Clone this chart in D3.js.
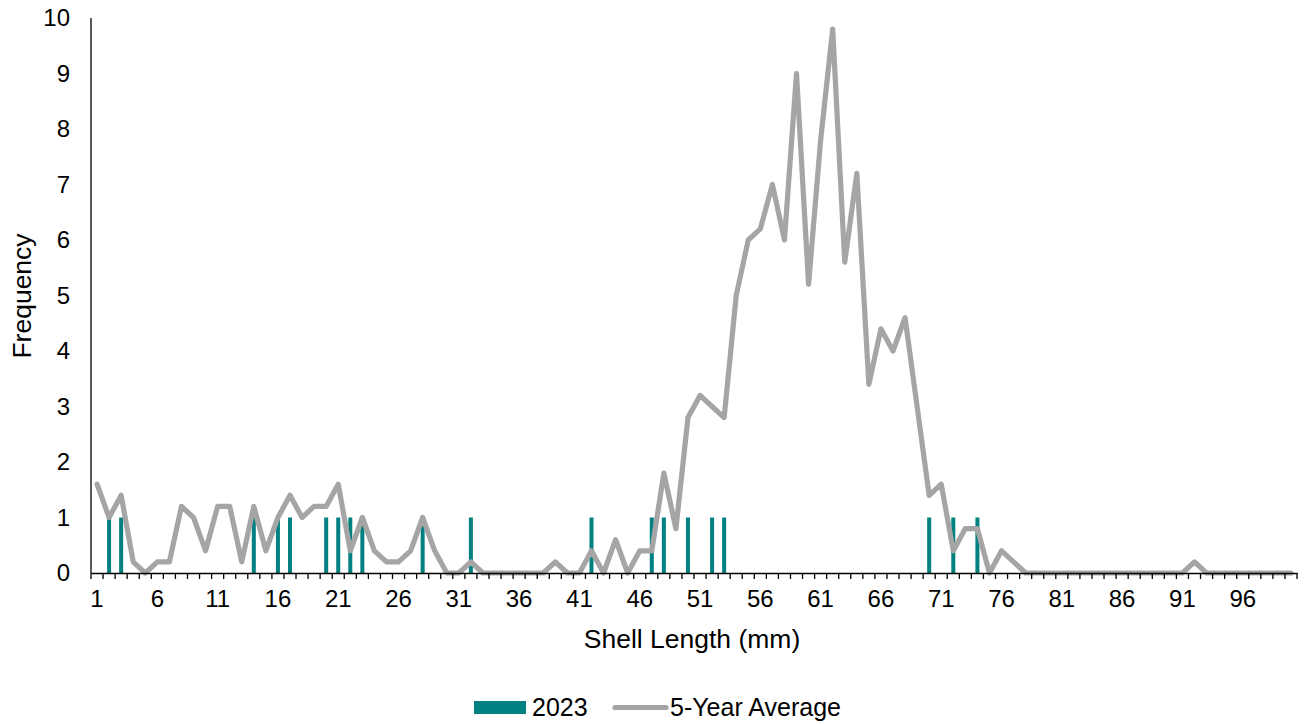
<!DOCTYPE html>
<html>
<head>
<meta charset="utf-8">
<script src="https://cdn.jsdelivr.net/npm/d3@7"></script>
<style>
  html, body { margin: 0; padding: 0; background: #fff; }
  svg { display: block; }
  text { font-family: "Liberation Sans", Arial, sans-serif; fill: #000; }
</style>
</head>
<body>
<svg id="chart" width="1309" height="724"></svg>
<script>
// Shell length categories 1..100 mm
const categories = d3.range(1, 101);
// 2023 counts (non-zero lengths only; all others are 0)
const lengths2023 = [2, 3, 14, 16, 17, 20, 21, 22, 23, 28, 32, 42, 47, 48, 50, 52, 53, 70, 72, 74];
const counts2023 = categories.map(c => lengths2023.includes(c) ? 1 : 0);
// 5-year average frequency, lengths 1..100
const avg5yr = [
  1.6, 1.0, 1.4, 0.2, 0.0, 0.2, 0.2, 1.2, 1.0, 0.4,
  1.2, 1.2, 0.2, 1.2, 0.4, 1.0, 1.4, 1.0, 1.2, 1.2,
  1.6, 0.4, 1.0, 0.4, 0.2, 0.2, 0.4, 1.0, 0.4, 0.0,
  0.0, 0.2, 0.0, 0.0, 0.0, 0.0, 0.0, 0.0, 0.2, 0.0,
  0.0, 0.4, 0.0, 0.6, 0.0, 0.4, 0.4, 1.8, 0.8, 2.8,
  3.2, 3.0, 2.8, 5.0, 6.0, 6.2, 7.0, 6.0, 9.0, 5.2,
  7.8, 9.8, 5.6, 7.2, 3.4, 4.4, 4.0, 4.6, 3.0, 1.4,
  1.6, 0.4, 0.8, 0.8, 0.0, 0.4, 0.2, 0.0, 0.0, 0.0,
  0.0, 0.0, 0.0, 0.0, 0.0, 0.0, 0.0, 0.0, 0.0, 0.0,
  0.0, 0.2, 0.0, 0.0, 0.0, 0.0, 0.0, 0.0, 0.0, 0.0
];
const yTicks = d3.range(0, 11);
const xTickLabels = categories.filter(c => (c - 1) % 5 === 0);
const seriesNames = ["2023", "5-Year Average"];

const svg = d3.select("#chart");
const plot = { left: 91, right: 1297, top: 18, bottom: 573 };
const tickFont = 24, titleFont = 26.5, legendFont = 25;

const x = d3.scaleBand().domain(categories).range([plot.left, plot.right]).paddingInner(0).paddingOuter(0);
const y = d3.scaleLinear().domain([0, 10]).range([plot.bottom, plot.top]);

// Bars (2023)
const barW = 4;
svg.append("g").selectAll("rect")
  .data(categories.map((c, i) => ({ c, v: counts2023[i] })).filter(d => d.v > 0))
  .join("rect")
  .attr("x", d => x(d.c) + x.bandwidth() / 2 - barW / 2)
  .attr("width", barW)
  .attr("y", d => y(d.v))
  .attr("height", d => y(0) - y(d.v))
  .attr("fill", "#008080");

// Line (5-year average)
const line = d3.line()
  .x((d, i) => x(categories[i]) + x.bandwidth() / 2)
  .y(d => y(d));
svg.append("path")
  .datum(avg5yr)
  .attr("d", line)
  .attr("fill", "none")
  .attr("stroke", "#A5A5A5")
  .attr("stroke-width", 5.2)
  .attr("stroke-linejoin", "round")
  .attr("stroke-linecap", "round");

// Y axis line
svg.append("line")
  .attr("x1", plot.left).attr("x2", plot.left)
  .attr("y1", y(10)).attr("y2", y(0))
  .attr("stroke", "#000").attr("stroke-width", 1.3);

// Y tick labels
svg.append("g").selectAll("text")
  .data(yTicks)
  .join("text")
  .attr("x", 70)
  .attr("y", d => y(d))
  .attr("dy", "0.35em")
  .attr("text-anchor", "end")
  .style("font-size", tickFont + "px")
  .text(d => d);

// X axis (category boundaries as ticks)
const xAxis = d3.axisBottom(x).tickValues([]).tickSizeOuter(0);
const gx = svg.append("g").attr("transform", `translate(0,${plot.bottom})`).call(xAxis);
gx.select(".domain").attr("stroke", "#000").attr("stroke-width", 1.3);
const boundaries = categories.map(c => x(c)).concat([plot.right]);
gx.selectAll("line.bnd")
  .data(boundaries)
  .join("line")
  .attr("class", "bnd")
  .attr("x1", d => d).attr("x2", d => d)
  .attr("y1", 0).attr("y2", 6)
  .attr("stroke", "#000").attr("stroke-width", 1.3);
gx.selectAll("text.lbl")
  .data(xTickLabels)
  .join("text")
  .attr("class", "lbl")
  .attr("x", d => x(d) + x.bandwidth() / 2)
  .attr("y", 34)
  .attr("text-anchor", "middle")
  .style("font-size", tickFont + "px")
  .text(d => d);

// Axis titles
svg.append("text")
  .attr("x", 692).attr("y", 648)
  .attr("text-anchor", "middle")
  .style("font-size", titleFont + "px")
  .text("Shell Length (mm)");
svg.append("text")
  .attr("transform", "translate(31,296) rotate(-90)")
  .attr("text-anchor", "middle")
  .style("font-size", titleFont + "px")
  .text("Frequency");

// Legend
const lg = svg.append("g");
lg.append("rect").attr("x", 474).attr("y", 701).attr("width", 52).attr("height", 13).attr("fill", "#008080");
lg.append("text").attr("x", 532).attr("y", 716).style("font-size", legendFont + "px").text(seriesNames[0]);
lg.append("line").attr("x1", 615).attr("x2", 666).attr("y1", 707.5).attr("y2", 707.5)
  .attr("stroke", "#A5A5A5").attr("stroke-width", 5.2).attr("stroke-linecap", "round");
lg.append("text").attr("x", 670).attr("y", 716).style("font-size", legendFont + "px").text(seriesNames[1]);
</script>
</body>
</html>
